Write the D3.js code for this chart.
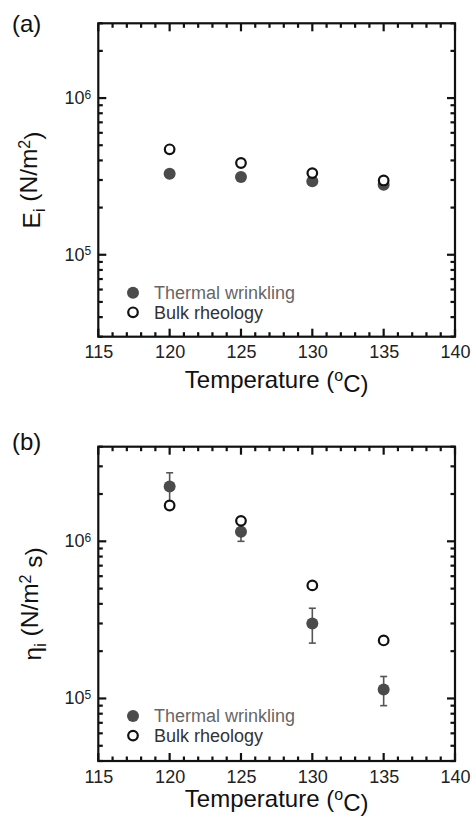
<!DOCTYPE html>
<html>
<head>
<meta charset="utf-8">
<script src="https://cdn.jsdelivr.net/npm/d3@7"></script>
<style>
  body { margin: 0; background: #fff; }
  svg { display: block; font-family: "Liberation Sans", Arial, sans-serif; }
  .tick text { font-size: 18px; fill: #222; }
</style>
</head>
<body>
<div id="chart"></div>
<script>
// values
var temps = [120, 125, 130, 135];
var xTicks = [115, 120, 125, 130, 135, 140];
var legendLabels = ["Thermal wrinkling", "Bulk rheology"];

// (a) modulus
var modulusWrinkling = [3.29e5, 3.13e5, 2.95e5, 2.80e5];
var modulusRheology = [4.71e5, 3.85e5, 3.32e5, 2.98e5];

// (b) viscosity
var viscWrinkling = [2.23e6, 1.15e6, 3.0e5, 1.14e5];
var viscWrinklingErr = [5.0e5, 1.5e5, 7.5e4, 2.4e4];
var viscRheology = [1.69e6, 1.35e6, 5.24e5, 2.34e5];

var svg = d3.select("#chart").append("svg")
    .attr("width", 474)
    .attr("height", 816);

function drawPanel(opt) {
    var width = 356.7, height = opt.height;
    var g = svg.append("g")
        .attr("transform", "translate(98.3," + opt.top + ")");

    var x = d3.scaleLinear().domain([115, 140]).range([0, width]);
    var y = d3.scaleLog().domain(opt.yDomain).range([height, 0]);

    var xMinor = d3.range(115, 141, 1).filter(function(d) { return d % 5 != 0; });
    var yMajor = [1e5, 1e6];
    var yMinor = [];
    [1e4, 1e5, 1e6].forEach(function(dec) {
        for (var k = 2; k < 10; k++) {
            var v = dec * k;
            if (v >= opt.yDomain[0] && v <= opt.yDomain[1]) yMinor.push(v);
        }
    });

    g.append("rect")
        .attr("width", width).attr("height", height)
        .attr("fill", "none").attr("stroke", "#111").attr("stroke-width", 2.2);

    // inward tick marks on all four sides
    var tk = g.append("g").attr("class", "ticks");
    function tickPath(d, side, len) {
        if (side == "b") return "M" + x(d) + "," + height + "V" + (height - len);
        if (side == "t") return "M" + x(d) + ",0V" + len;
        if (side == "l") return "M0," + y(d) + "H" + len;
        return "M" + width + "," + y(d) + "H" + (width - len);
    }
    var tickSpecs = [];
    xTicks.forEach(function(d) { tickSpecs.push([d, "b", 8], [d, "t", 8]); });
    xMinor.forEach(function(d) { tickSpecs.push([d, "b", 4.5], [d, "t", 4.5]); });
    yMajor.forEach(function(d) { tickSpecs.push([d, "l", 8], [d, "r", 8]); });
    yMinor.forEach(function(d) { tickSpecs.push([d, "l", 4.5], [d, "r", 4.5]); });
    tk.selectAll("path").data(tickSpecs).enter().append("path")
        .attr("d", function(s) { return tickPath(s[0], s[1], s[2]); })
        .attr("stroke", "#111").attr("stroke-width", 2.2).attr("fill", "none");

    // axis labels from d3 axes
    g.append("g").attr("class", "xaxis").attr("transform", "translate(0," + height + ")")
        .call(d3.axisBottom(x).tickValues(xTicks).tickSize(0).tickPadding(9));

    var yAx = g.append("g").attr("class", "yaxis")
        .call(d3.axisLeft(y).tickValues(yMajor).tickSize(0).tickPadding(7)
            .tickFormat(function(d) { return Math.round(Math.log10(d)); }));
    yAx.selectAll(".tick text").each(function(d) {
        var t = d3.select(this), p = t.text();
        t.text("").attr("dy", "0.3em");
        t.append("tspan").text("10");
        t.append("tspan").attr("dy", "-0.45em").style("font-size", "12px").text(p);
    });
    g.selectAll(".domain").remove();

    // error bars
    if (opt.err) {
        temps.forEach(function(t, i) {
            var lo = opt.filled[i] - opt.err[i], hi = opt.filled[i] + opt.err[i];
            g.append("line")
                .attr("x1", x(t)).attr("x2", x(t))
                .attr("y1", y(lo)).attr("y2", y(hi))
                .attr("stroke", "#555").attr("stroke-width", 1.6);
            [lo, hi].forEach(function(v) {
                g.append("line")
                    .attr("x1", x(t) - 3.5).attr("x2", x(t) + 3.5)
                    .attr("y1", y(v)).attr("y2", y(v))
                    .attr("stroke", "#555").attr("stroke-width", 1.6);
            });
        });
    }

    g.selectAll(".filled").data(opt.filled).enter().append("circle")
        .attr("cx", function(d, i) { return x(temps[i]); })
        .attr("cy", function(d) { return y(d); })
        .attr("r", 6)
        .attr("fill", "#4b4b4b");

    g.selectAll(".open").data(opt.open).enter().append("circle")
        .attr("cx", function(d, i) { return x(temps[i]); })
        .attr("cy", function(d) { return y(d); })
        .attr("r", 4.8)
        .attr("fill", "#fff")
        .attr("stroke", "#111")
        .attr("stroke-width", 2.2);

    // legend
    var lg = g.append("g").attr("transform", "translate(34.7," + opt.legendY + ")");
    lg.append("circle").attr("r", 6).attr("fill", "#4b4b4b");
    lg.append("text").attr("x", 21).attr("dy", "0.35em")
        .style("font-size", "18px").attr("fill", "#666").text(legendLabels[0]);
    lg.append("circle").attr("cy", 19.6).attr("r", 4.8)
        .attr("fill", "#fff").attr("stroke", "#111").attr("stroke-width", 2.2);
    lg.append("text").attr("x", 21).attr("y", 19.6).attr("dy", "0.35em")
        .style("font-size", "18px").attr("fill", "#333").text(legendLabels[1]);

    // x title
    var xt = g.append("text")
        .attr("x", width / 2 + 0).attr("y", height + opt.xTitleOff)
        .attr("text-anchor", "middle")
        .style("font-size", "24px").attr("fill", "#111");
    xt.append("tspan").text("Temperature (");
    xt.append("tspan").attr("dy", "-0.45em").style("font-size", "16px").text("o");
    xt.append("tspan").attr("dy", "0.45em").text("C)");

    // y title
    var yt = g.append("text")
        .attr("transform", "translate(" + (opt.yTitleX - 98.3) + "," + (height / 2) + ") rotate(-90)")
        .attr("text-anchor", "middle")
        .style("font-size", "24.5px").attr("fill", "#111");
    yt.append("tspan").text(opt.yTitle[0]);
    yt.append("tspan").attr("dy", "0.3em").style("font-size", "16px").text("i");
    yt.append("tspan").attr("dy", "-0.3em").text(" (N/m");
    yt.append("tspan").attr("dy", "-0.45em").style("font-size", "16px").text("2");
    yt.append("tspan").attr("dy", "0.45em").text(opt.yTitle[1]);

    // panel letter
    svg.append("text")
        .attr("x", 12).attr("y", opt.letterY)
        .style("font-size", "24px").attr("fill", "#111")
        .text(opt.letter);
}

drawPanel({
    top: 23.3, height: 313.4,
    yDomain: [3e4, 3e6],
    filled: modulusWrinkling, open: modulusRheology,
    legendY: 269.4, xTitleOff: 51.5,
    yTitle: ["E", ")"], yTitleX: 40,
    letter: "(a)", letterY: 32
});

drawPanel({
    top: 446.7, height: 314.3,
    yDomain: [4e4, 4e6],
    filled: viscWrinkling, err: viscWrinklingErr, open: viscRheology,
    legendY: 269.3, xTitleOff: 46.5,
    yTitle: ["\u03b7", " s)"], yTitleX: 41,
    letter: "(b)", letterY: 450
});
</script>
</body>
</html>
